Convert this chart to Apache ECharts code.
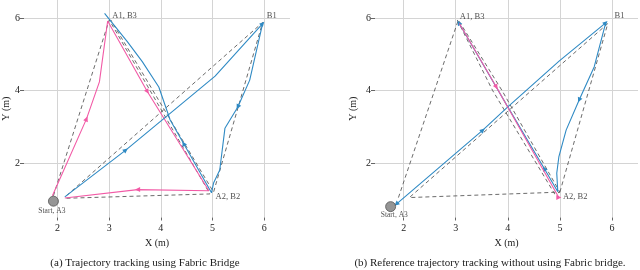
<!DOCTYPE html>
<html><head><meta charset="utf-8">
<script src="https://cdn.jsdelivr.net/npm/echarts@6/dist/echarts.min.js"></script>
<style>html,body{margin:0;padding:0;background:#fff}#c{width:640px;height:270px}</style>
</head><body><div id="c"></div>
<script>
// ---- axis ticks ----
const xTicks = [2, 3, 4, 5, 6];
const yTicks = [2, 4, 6];
const axisNames = ['X (m)', 'Y (m)'];
const captions = ['(a) Trajectory tracking using Fabric Bridge', '(b) Reference trajectory tracking without using Fabric bridge.'];

// ---- panel (a): with Fabric Bridge ----
const aRobotA = [[1.90,1.10],[2.56,3.22],[2.81,4.24],[2.97,5.92],[3.74,3.97],[4.93,1.24],[3.55,1.27],[2.14,1.04]];
const aRobotB = [[2.14,1.07],[3.32,2.36],[5.05,4.40],[5.97,5.85],[5.72,4.29],[5.49,3.55],[5.24,2.96],[5.14,1.81],[5.02,1.45],[4.98,1.18],[4.44,2.54],[4.18,3.19],[3.96,4.10],[3.64,4.80],[3.35,5.35],[2.91,6.13]];
const aRef1 = [[1.92,1.10],[3.00,5.95],[4.95,1.15],[2.15,1.03]];
const aRef2 = [[2.17,1.10],[5.97,5.88],[5.02,1.20],[3.03,5.95]];
const aStart = [[1.92,0.95]];
const aLabelText = ['A1, B3', 'B1', 'A2, B2', 'Start, A3'];
const aLabelPos = [[3.05,6.07],[6.04,6.07],[5.05,1.06],[1.89,0.68]];

// ---- panel (b): reference, without Fabric Bridge ----
const bRobotA = [[3.07,5.85],[3.78,4.10],[4.98,1.05]];
const bRobotB = [[1.86,0.87],[3.52,2.91],[4.00,3.55],[4.99,4.82],[5.88,5.87],[5.66,4.66],[5.37,3.74],[5.12,2.91],[4.98,2.17],[4.94,1.72],[4.96,1.21],[4.70,1.85],[3.98,3.60],[3.06,5.87]];
const bRef1 = [[1.90,1.05],[3.05,5.95],[3.89,4.00],[5.00,1.20],[2.11,1.05],[5.92,5.85],[5.00,1.20]];
const bRef2 = [[3.03,5.95],[3.71,4.00],[4.90,1.15],[5.00,1.20]];
const bStart = [[1.75,0.80]];
const bLabelText = ['A1, B3', 'B1', 'A2, B2', 'Start, A3'];
const bLabelPos = [[3.07,6.05],[6.04,6.07],[5.05,1.07],[1.82,0.57]];

// ---- style ----
const PINK = '#f25aa6', BLUE = '#2f8ac4', DASH = '#5a5a5a';
const FONT = '"Liberation Serif","DejaVu Serif",serif';
// arrow markers: [index, rotation]
const marks = {
  aA: [[1,-23],[4,-149],[6,90]],
  aB: [[1,-51],[3,-42],[5,154],[10,30]],
  bA: [[1,-150],[2,-90]],
  bB: [[0,131],[1,-49],[4,-45],[6,156],[11,30],[13,30]]
};

function lineSeries(data, g, color, mk, dashed, z) {
  return {
    type: 'line', xAxisIndex: g, yAxisIndex: g, silent: true, animation: false, z: z,
    symbol: 'none',
    data: data.map((p, i) => {
      const m = mk && mk.find(k => k[0] === i);
      return m ? { value: p, symbol: 'triangle', symbolSize: 5, symbolRotate: m[1] } : { value: p };
    }),
    lineStyle: { color: color, width: dashed ? 0.9 : 1.1, type: dashed ? [4, 3] : 'solid' },
    itemStyle: { color: color }
  };
}
function startSeries(data, g) {
  return { type: 'scatter', xAxisIndex: g, yAxisIndex: g, silent: true, animation: false, z: 5,
    data: data, symbol: 'circle', symbolSize: 10,
    itemStyle: { color: '#7a7a7a', borderColor: '#555', borderWidth: 1 } };
}
function labelSeries(texts, pos, g) {
  return { type: 'scatter', xAxisIndex: g, yAxisIndex: g, silent: true, animation: false, z: 6,
    symbolSize: 1, itemStyle: { color: 'rgba(0,0,0,0)' },
    data: texts.map((t, i) => ({
      value: pos[i], name: t,
      label: t.indexOf('Start') === 0
        ? { show: true, position: 'inside', formatter: t, fontSize: 7.5, fontFamily: FONT, color: '#222' }
        : { show: true, position: 'right', distance: 0, formatter: t, fontSize: 8.5, fontFamily: FONT, color: '#222' }
    })) };
}
function xAxis(g, min) {
  return { type: 'value', gridIndex: g, min: min, max: 6.5,
    name: axisNames[0], nameLocation: 'middle', nameGap: 21,
    nameTextStyle: { fontFamily: FONT, fontSize: 10, color: '#222' },
    axisLine: { show: false },
    axisTick: { show: true, customValues: xTicks, length: 3, lineStyle: { color: '#666' } },
    axisLabel: { customValues: xTicks, fontFamily: FONT, fontSize: 10, color: '#222', margin: 6 },
    splitLine: { show: true, lineStyle: { color: '#d4d4d4', width: 1 } } };
}
function yAxis(g, gap) {
  return { type: 'value', gridIndex: g, min: 0.5, max: 6.5,
    name: axisNames[1], nameLocation: 'middle', nameGap: gap,
    nameTextStyle: { fontFamily: FONT, fontSize: 10, color: '#222' },
    axisLine: { show: false },
    axisTick: { show: true, customValues: yTicks, length: 4, lineStyle: { color: '#666' } },
    axisLabel: { customValues: yTicks, fontFamily: FONT, fontSize: 10, color: '#222', margin: 4 },
    splitLine: { show: true, lineStyle: { color: '#d4d4d4', width: 1 } } };
}

const chart = echarts.init(document.getElementById('c'), null, { renderer: 'canvas' });
chart.setOption({
  animation: false,
  grid: [
    { left: 22, top: 0, width: 268, height: 217.5 },
    { left: 375, top: 0, width: 263, height: 217.5 }
  ],
  xAxis: [xAxis(0, 1.35), xAxis(1, 1.45)],
  yAxis: [yAxis(0, 13), yAxis(1, 17)],
  graphic: [
    { type: 'text', x: 145, y: 263, style: { text: captions[0], textAlign: 'center', textVerticalAlign: 'middle', font: '11px ' + FONT, fill: '#222' } },
    { type: 'text', x: 490, y: 263, style: { text: captions[1], textAlign: 'center', textVerticalAlign: 'middle', font: '11px ' + FONT, fill: '#222' } }
  ],
  series: [
    lineSeries(aRef1, 0, DASH, null, true, 2),
    lineSeries(aRef2, 0, DASH, null, true, 2),
    lineSeries(aRobotA, 0, PINK, marks.aA, false, 3),
    lineSeries(aRobotB, 0, BLUE, marks.aB, false, 4),
    startSeries(aStart, 0),
    labelSeries(aLabelText, aLabelPos, 0),
    lineSeries(bRef1, 1, DASH, null, true, 2),
    lineSeries(bRef2, 1, DASH, null, true, 2),
    lineSeries(bRobotB, 1, BLUE, marks.bB, false, 3),
    lineSeries(bRobotA, 1, PINK, marks.bA, false, 4),
    startSeries(bStart, 1),
    labelSeries(bLabelText, bLabelPos, 1)
  ]
});
</script></body></html>
